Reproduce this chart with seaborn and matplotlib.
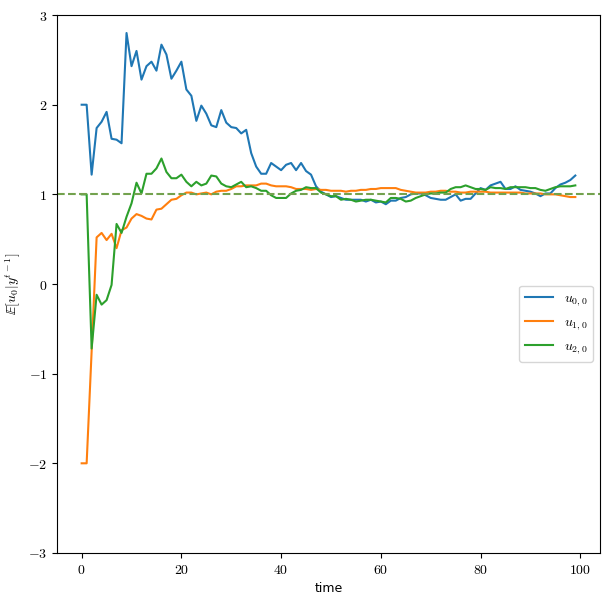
import numpy as np
import pandas as pd
import matplotlib
matplotlib.use("Agg")
import matplotlib.pyplot as plt
import seaborn as sns
from matplotlib.ticker import FuncFormatter

series_names = [r"$u_{0,0}$", r"$u_{1,0}$", r"$u_{2,0}$"]

u00 = [2.00, 2.00, 1.22, 1.74, 1.81, 1.92, 1.62, 1.61, 1.57, 2.80,
       2.43, 2.60, 2.28, 2.43, 2.48, 2.38, 2.67, 2.56, 2.29, 2.38,
       2.48, 2.17, 2.10, 1.82, 1.99, 1.90, 1.77, 1.75, 1.94, 1.80,
       1.75, 1.74, 1.68, 1.72, 1.46, 1.31, 1.23, 1.23, 1.35, 1.31,
       1.27, 1.33, 1.35, 1.27, 1.35, 1.26, 1.22, 1.09, 1.03, 1.00,
       0.97, 0.98, 0.96, 0.94, 0.94, 0.94, 0.94, 0.92, 0.94, 0.91,
       0.92, 0.89, 0.93, 0.93, 0.96, 0.97, 1.00, 1.01, 1.01, 0.99,
       0.96, 0.95, 0.94, 0.94, 0.97, 1.00, 0.93, 0.95, 0.95, 1.01,
       1.07, 1.05, 1.10, 1.12, 1.14, 1.06, 1.06, 1.09, 1.05, 1.04,
       1.03, 1.01, 0.98, 1.01, 1.01, 1.07, 1.11, 1.13, 1.16, 1.21]

u10 = [-2.00, -2.00, -0.75, 0.52, 0.57, 0.49, 0.56, 0.40, 0.60, 0.63,
       0.73, 0.78, 0.76, 0.73, 0.72, 0.83, 0.84, 0.89, 0.94, 0.95,
       0.99, 1.02, 1.02, 1.00, 1.01, 1.02, 1.00, 1.03, 1.04, 1.04,
       1.06, 1.09, 1.09, 1.10, 1.10, 1.10, 1.12, 1.12, 1.10, 1.09,
       1.09, 1.09, 1.08, 1.06, 1.06, 1.06, 1.05, 1.06, 1.05, 1.05,
       1.04, 1.04, 1.04, 1.03, 1.04, 1.04, 1.05, 1.05, 1.06, 1.06,
       1.07, 1.07, 1.07, 1.07, 1.05, 1.04, 1.03, 1.02, 1.02, 1.02,
       1.03, 1.03, 1.04, 1.04, 1.03, 1.03, 1.02, 1.02, 1.03, 1.03,
       1.03, 1.03, 1.02, 1.02, 1.02, 1.02, 1.02, 1.02, 1.02, 1.01,
       1.01, 1.01, 1.01, 1.00, 1.00, 1.00, 0.99, 0.98, 0.97, 0.97]

u20 = [1.00, 1.00, -0.72, -0.12, -0.23, -0.18, -0.01, 0.67, 0.57, 0.75,
       0.90, 1.13, 1.01, 1.23, 1.23, 1.29, 1.40, 1.25, 1.18, 1.18,
       1.22, 1.14, 1.09, 1.14, 1.10, 1.12, 1.21, 1.20, 1.12, 1.09,
       1.08, 1.11, 1.14, 1.08, 1.09, 1.07, 1.04, 1.04, 0.99, 0.96,
       0.96, 0.96, 1.01, 1.04, 1.05, 1.08, 1.07, 1.07, 1.02, 1.00,
       0.98, 0.98, 0.94, 0.95, 0.94, 0.92, 0.93, 0.94, 0.94, 0.93,
       0.92, 0.91, 0.96, 0.96, 0.95, 0.92, 0.93, 0.96, 0.98, 1.00,
       1.01, 1.01, 1.02, 1.02, 1.06, 1.08, 1.08, 1.10, 1.08, 1.06,
       1.06, 1.05, 1.08, 1.07, 1.07, 1.06, 1.08, 1.08, 1.08, 1.08,
       1.07, 1.07, 1.05, 1.04, 1.06, 1.08, 1.09, 1.09, 1.09, 1.10]

true_value = 1.0
y_ticks = [-3, -2, -1, 0, 1, 2, 3]
x_ticks = [0, 20, 40, 60, 80, 100]

time = np.arange(len(u00))
df = pd.DataFrame({
    "time": np.concatenate([time, time, time]),
    "value": np.concatenate([u00, u10, u20]),
    "series": np.repeat(series_names, len(time)),
})

plt.rcParams["mathtext.fontset"] = "cm"

fig = plt.figure(figsize=(6.1, 6.03), dpi=100)
ax = fig.add_axes([0.0934, 0.083, 0.8902, 0.892])

palette = ["#1f77b4", "#ff7f0e", "#2ca02c"]
sns.lineplot(data=df, x="time", y="value", hue="series", palette=palette,
             ax=ax, linewidth=1.5)

ax.axhline(true_value, color="#73a24e", linestyle="--", linewidth=1.5)

ax.set_ylim(-3, 3)
ax.set_xlim(-4.95, 103.95)
ax.set_yticks(y_ticks)
ax.set_xticks(x_ticks)
fmt = FuncFormatter(lambda v, p: "$%d$" % v)
ax.xaxis.set_major_formatter(fmt)
ax.yaxis.set_major_formatter(fmt)
ax.tick_params(labelsize=10)

ax.set_xlabel("time", fontsize=9)
ax.set_ylabel(r"$\mathbb{E}[u_0|y^{t-1}]$", fontsize=10)

handles, labels = ax.get_legend_handles_labels()
ax.legend(handles[:3], labels[:3], loc="center right",
          bbox_to_anchor=(1.0, 0.426), fontsize=10)

fig.savefig("out.png", dpi=100)
